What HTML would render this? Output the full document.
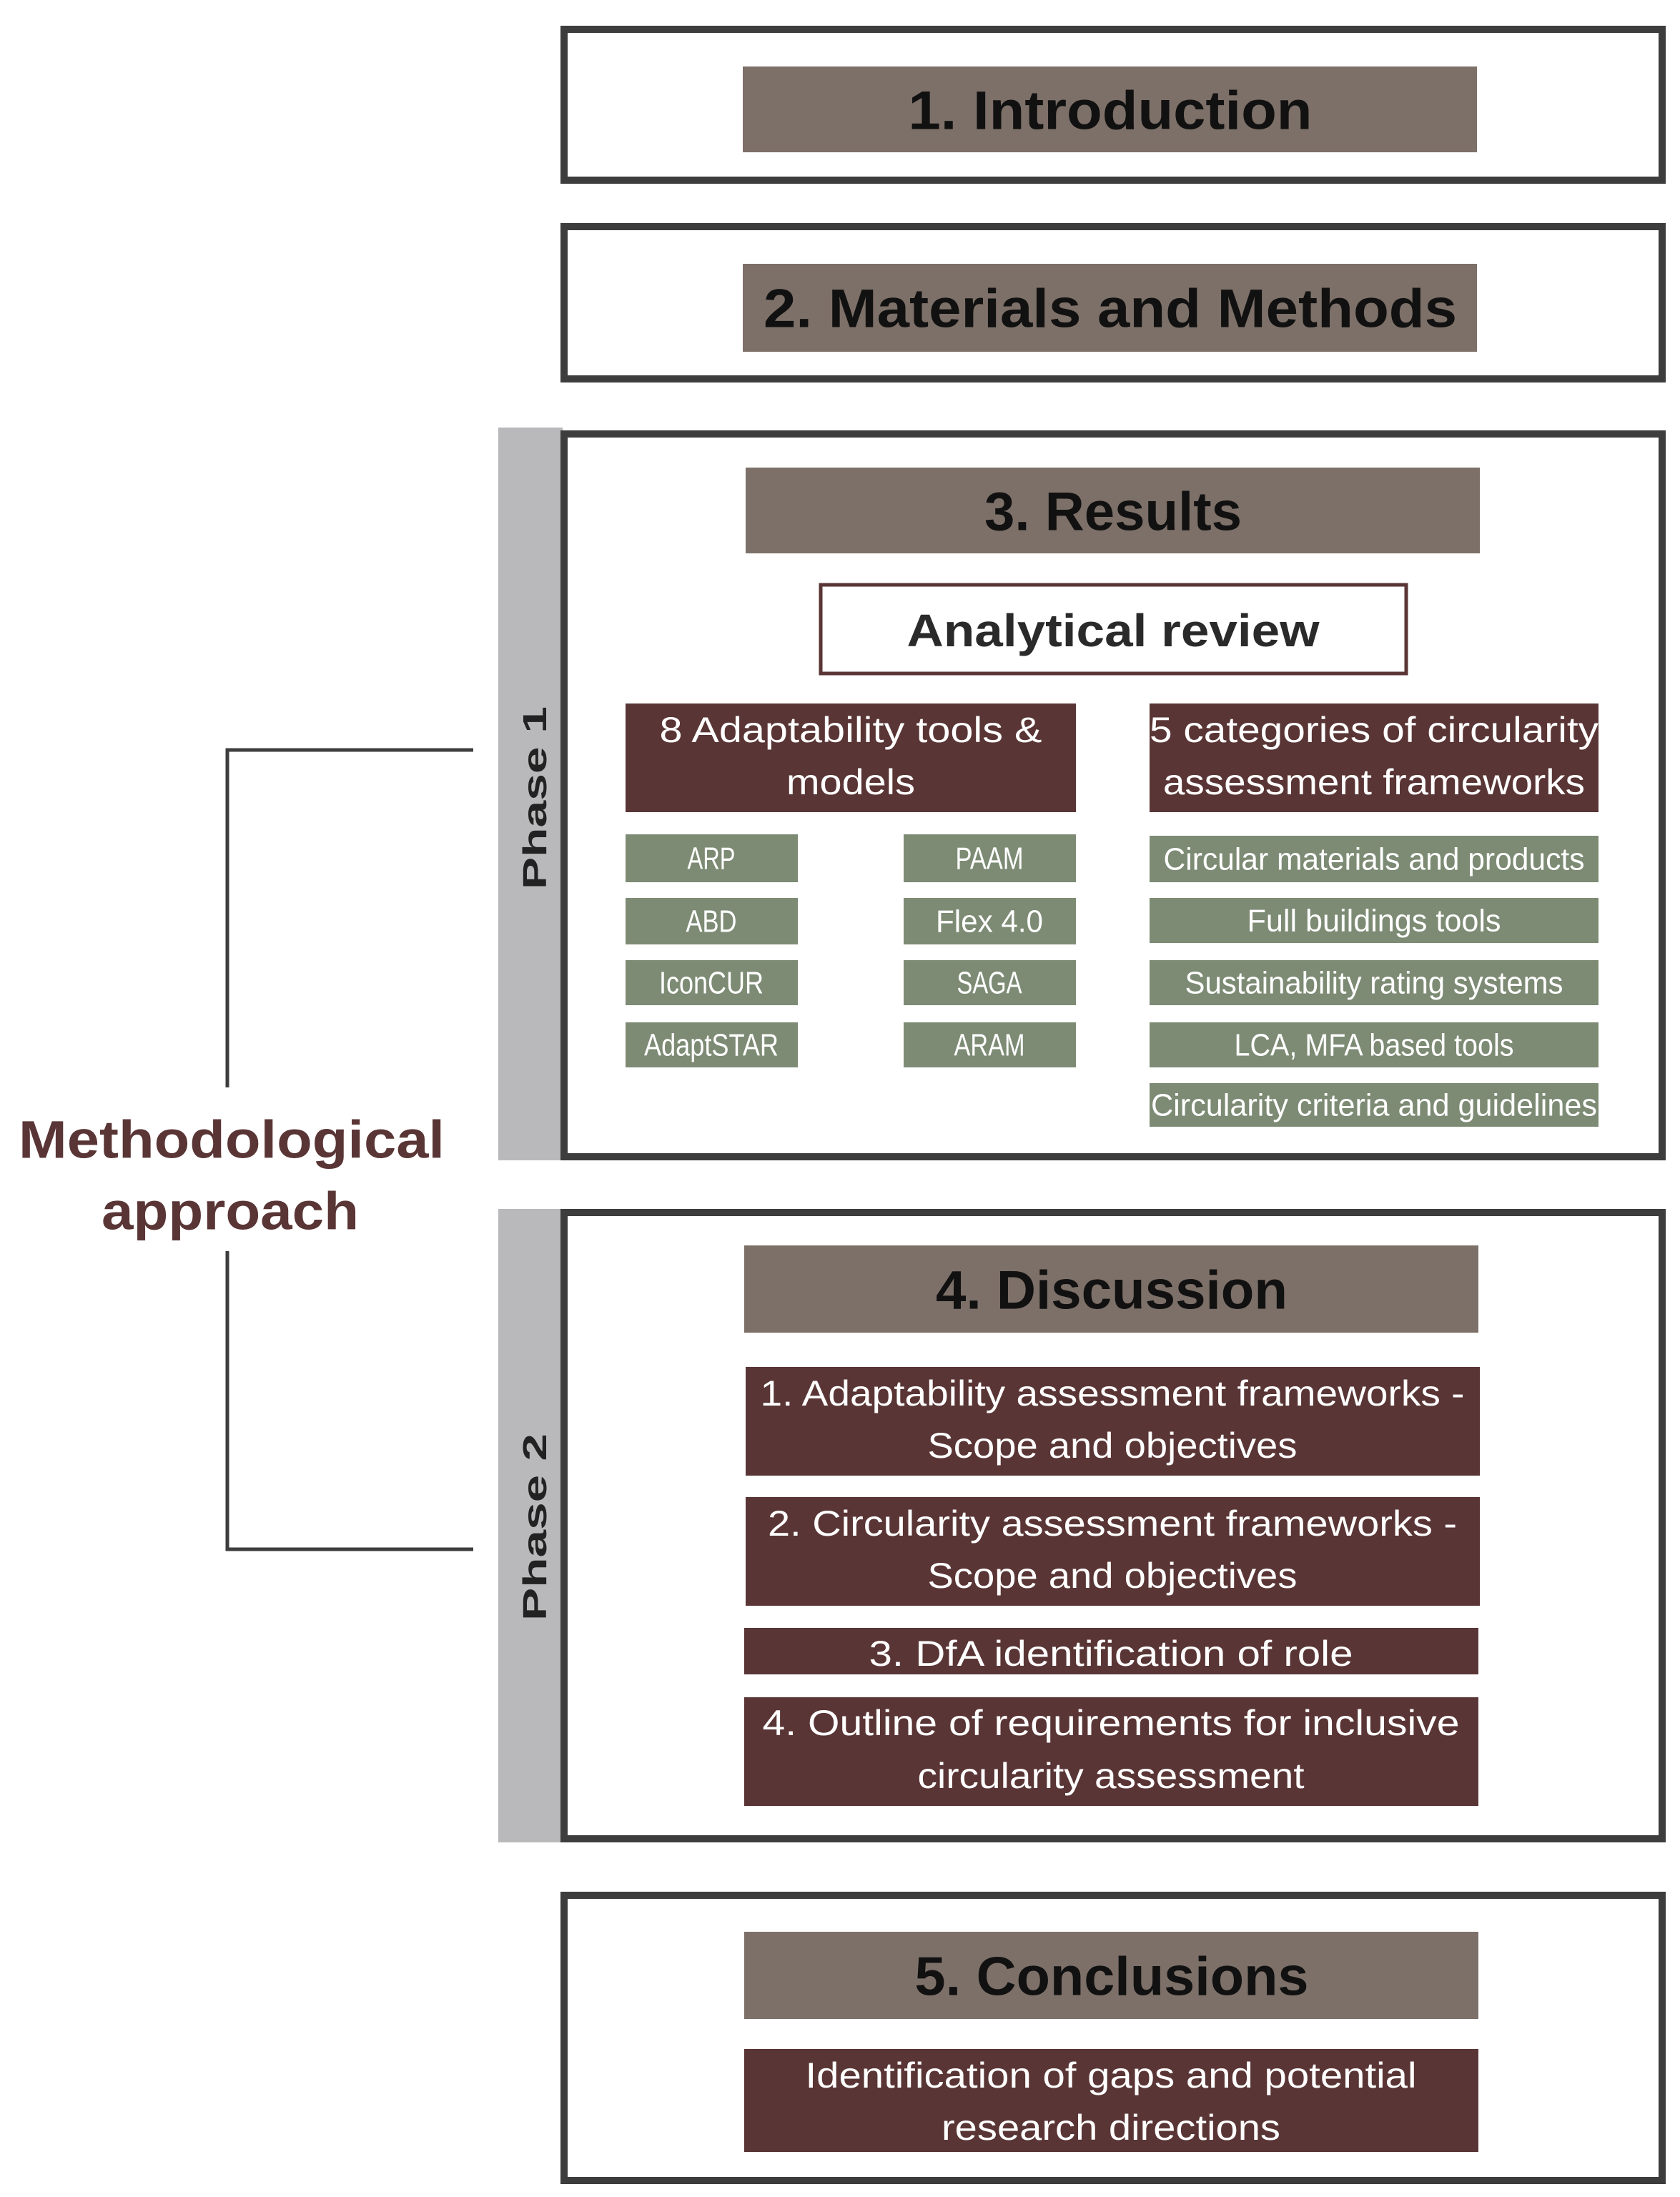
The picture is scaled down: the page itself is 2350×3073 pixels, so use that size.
<!DOCTYPE html>
<html><head><meta charset="utf-8"><style>html,body{margin:0;padding:0;background:#fff}svg{display:block}</style></head>
<body>
<svg width="2350" height="3073" viewBox="0 0 2350 3073" xmlns="http://www.w3.org/2000/svg" font-family="Liberation Sans, sans-serif">
<rect width="2350" height="3073" fill="#fff"/>
<!-- phase bars -->
<rect x="697" y="598" width="90" height="1025" fill="#b9b9bb"/>
<rect x="697" y="1691" width="90" height="886" fill="#b9b9bb"/>
<!-- outer boxes -->
<g fill="none" stroke="#3d3d3d" stroke-width="10">
<rect x="789" y="41" width="1536" height="211"/>
<rect x="789" y="317" width="1536" height="213"/>
<rect x="789" y="607" width="1536" height="1011"/>
<rect x="789" y="1696" width="1536" height="876"/>
<rect x="789" y="2651" width="1536" height="399"/>
</g>
<!-- connector -->
<g fill="none" stroke="#3d3d3d" stroke-width="5">
<polyline points="662,1049 318,1049 318,1521"/>
<polyline points="318,1750 318,2167 662,2167"/>
</g>
<!-- phase labels -->
<text transform="translate(748,1116) rotate(-90)" text-anchor="middle" dominant-baseline="central" font-size="46" font-weight="900" fill="#222" textLength="256" lengthAdjust="spacingAndGlyphs">Phase 1</text>
<text transform="translate(748,2136) rotate(-90)" text-anchor="middle" dominant-baseline="central" font-size="46" font-weight="900" fill="#222" textLength="262" lengthAdjust="spacingAndGlyphs">Phase 2</text>
<!-- methodological -->
<g fill="#5a3535" font-weight="bold" font-size="74" text-anchor="middle" dominant-baseline="central">
<text x="324" y="1594" textLength="596" lengthAdjust="spacingAndGlyphs">Methodological</text>
<text x="322" y="1694" textLength="360" lengthAdjust="spacingAndGlyphs">approach</text>
</g>
<!-- header bars -->
<g fill="#7d7068">
<rect x="1039" y="93" width="1027" height="120"/>
<rect x="1039" y="369" width="1027" height="123"/>
<rect x="1043" y="654" width="1027" height="120"/>
<rect x="1041" y="1742" width="1027" height="122"/>
<rect x="1041" y="2702" width="1027" height="122"/>
</g>
<g fill="#111" font-weight="bold" font-size="76" text-anchor="middle" dominant-baseline="central">
<text x="1553" y="155" textLength="565" lengthAdjust="spacingAndGlyphs">1. Introduction</text>
<text x="1553" y="432" textLength="970" lengthAdjust="spacingAndGlyphs">2. Materials and Methods</text>
<text x="1557" y="716" textLength="360" lengthAdjust="spacingAndGlyphs">3. Results</text>
<text x="1555" y="1805" textLength="492" lengthAdjust="spacingAndGlyphs">4. Discussion</text>
<text x="1555" y="2765" textLength="551" lengthAdjust="spacingAndGlyphs">5. Conclusions</text>
</g>
<!-- analytical review -->
<rect x="1148" y="818" width="819" height="124" fill="#fff" stroke="#5a3535" stroke-width="5"/>
<text x="1557" y="882" text-anchor="middle" dominant-baseline="central" font-size="64" font-weight="bold" fill="#2a2a2a" textLength="577" lengthAdjust="spacingAndGlyphs">Analytical review</text>
<!-- dark red boxes -->
<g fill="#5a3535">
<rect x="875" y="984" width="630" height="152"/>
<rect x="1608" y="984" width="628" height="152"/>
<rect x="1043" y="1912" width="1027" height="152"/>
<rect x="1043" y="2094" width="1027" height="152"/>
<rect x="1041" y="2277" width="1027" height="65"/>
<rect x="1041" y="2374" width="1027" height="152"/>
<rect x="1041" y="2866" width="1027" height="144"/>
</g>
<g fill="#fff" font-size="50" text-anchor="middle" dominant-baseline="central">
<text x="1190" y="1021" textLength="535" lengthAdjust="spacingAndGlyphs">8 Adaptability tools &amp;</text>
<text x="1190" y="1094" textLength="180" lengthAdjust="spacingAndGlyphs">models</text>
<text x="1922" y="1021" textLength="628" lengthAdjust="spacingAndGlyphs">5 categories of circularity</text>
<text x="1922" y="1094" textLength="590" lengthAdjust="spacingAndGlyphs">assessment frameworks</text>
<text x="1556" y="1949" textLength="985" lengthAdjust="spacingAndGlyphs">1. Adaptability assessment frameworks -</text>
<text x="1556" y="2022" textLength="517" lengthAdjust="spacingAndGlyphs">Scope and objectives</text>
<text x="1556" y="2131" textLength="964" lengthAdjust="spacingAndGlyphs">2. Circularity assessment frameworks -</text>
<text x="1556" y="2204" textLength="517" lengthAdjust="spacingAndGlyphs">Scope and objectives</text>
<text x="1554" y="2313" textLength="677" lengthAdjust="spacingAndGlyphs">3. DfA identification of role</text>
<text x="1554" y="2410" textLength="975" lengthAdjust="spacingAndGlyphs">4. Outline of requirements for inclusive</text>
<text x="1554" y="2484" textLength="541" lengthAdjust="spacingAndGlyphs">circularity assessment</text>
<text x="1554" y="2903" textLength="855" lengthAdjust="spacingAndGlyphs">Identification of gaps and potential</text>
<text x="1554" y="2976" textLength="474" lengthAdjust="spacingAndGlyphs">research directions</text>
</g>
<!-- green boxes -->
<g fill="#7d8b74">
<rect x="875" y="1167" width="241" height="67"/>
<rect x="875" y="1256" width="241" height="65"/>
<rect x="875" y="1343" width="241" height="63"/>
<rect x="875" y="1430" width="241" height="63"/>
<rect x="1264" y="1167" width="241" height="67"/>
<rect x="1264" y="1256" width="241" height="65"/>
<rect x="1264" y="1343" width="241" height="63"/>
<rect x="1264" y="1430" width="241" height="63"/>
<rect x="1608" y="1169" width="628" height="65"/>
<rect x="1608" y="1256" width="628" height="63"/>
<rect x="1608" y="1343" width="628" height="63"/>
<rect x="1608" y="1430" width="628" height="63"/>
<rect x="1608" y="1515" width="628" height="61"/>
</g>
<g fill="#fff" font-size="44" text-anchor="middle" dominant-baseline="central">
<text x="995" y="1201" textLength="67" lengthAdjust="spacingAndGlyphs">ARP</text>
<text x="995" y="1289" textLength="71" lengthAdjust="spacingAndGlyphs">ABD</text>
<text x="995" y="1375" textLength="146" lengthAdjust="spacingAndGlyphs">IconCUR</text>
<text x="995" y="1462" textLength="188" lengthAdjust="spacingAndGlyphs">AdaptSTAR</text>
<text x="1384" y="1201" textLength="95" lengthAdjust="spacingAndGlyphs">PAAM</text>
<text x="1384" y="1289" textLength="150" lengthAdjust="spacingAndGlyphs">Flex 4.0</text>
<text x="1384" y="1375" textLength="91" lengthAdjust="spacingAndGlyphs">SAGA</text>
<text x="1384" y="1462" textLength="99" lengthAdjust="spacingAndGlyphs">ARAM</text>
<text x="1922" y="1202" textLength="589" lengthAdjust="spacingAndGlyphs">Circular materials and products</text>
<text x="1922" y="1288" textLength="355" lengthAdjust="spacingAndGlyphs">Full buildings tools</text>
<text x="1922" y="1375" textLength="529" lengthAdjust="spacingAndGlyphs">Sustainability rating systems</text>
<text x="1922" y="1462" textLength="391" lengthAdjust="spacingAndGlyphs">LCA, MFA based tools</text>
<text x="1922" y="1546" textLength="624" lengthAdjust="spacingAndGlyphs">Circularity criteria and guidelines</text>
</g>
</svg>
</body></html>
